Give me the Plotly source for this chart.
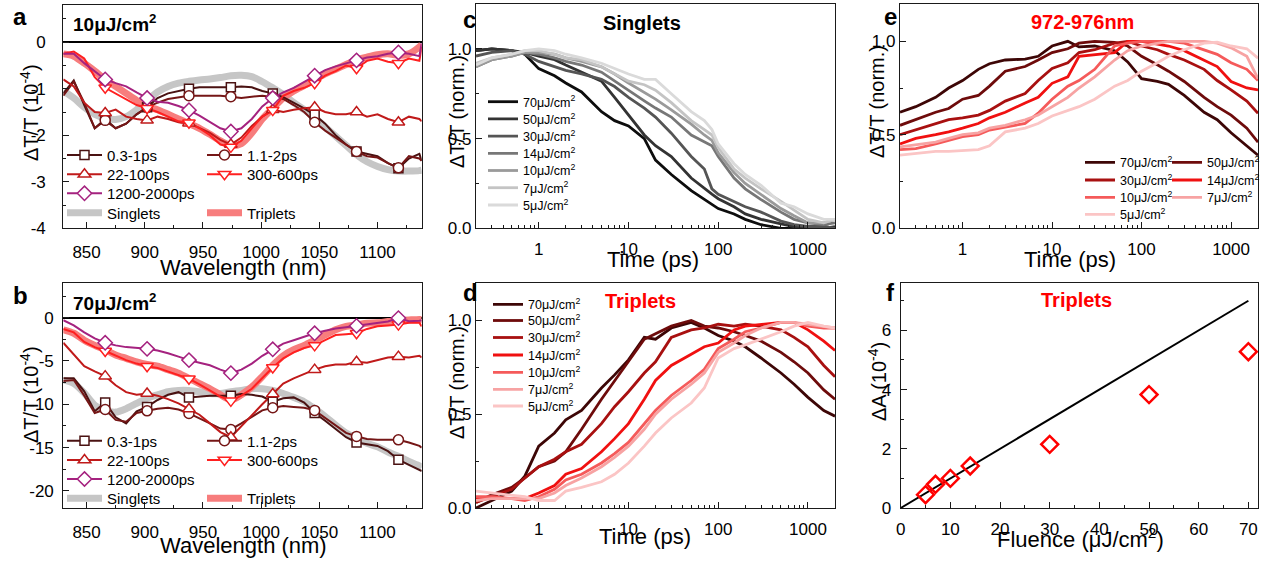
import numpy as np
import plotly.graph_objects as go

W, H = 1270, 561
FONT = "Liberation Sans, Arial, sans-serif"

# ---------------- data: panels a, b (spectra) ----------------
wavelength = [830, 839, 848, 857, 866, 875, 884, 893, 902, 911, 920, 929, 938, 947, 956, 965, 974,
              983, 992, 1001, 1010, 1019, 1028, 1037, 1046, 1055, 1064, 1073, 1082, 1091, 1100,
              1109, 1118, 1127, 1136, 1138]
marker_wavelength = [866, 902, 938, 974, 1010, 1046, 1082, 1118]
delay_names = ['0.3-1ps', '1.1-2ps', '22-100ps', '300-600ps', '1200-2000ps']

a_singlets = [-1.05, -1.2, -1.4, -1.55, -1.63, -1.66, -1.6, -1.45, -1.25, -1.07, -0.95, -0.88, -0.84,
              -0.81, -0.79, -0.76, -0.72, -0.71, -0.74, -0.85, -0.98, -1.12, -1.3, -1.45, -1.62, -1.82,
              -2.02, -2.22, -2.42, -2.57, -2.67, -2.74, -2.77, -2.77, -2.76, -2.75]
a_triplets = [-0.25, -0.3, -0.45, -0.62, -0.8, -0.95, -1.1, -1.25, -1.38, -1.45, -1.55, -1.65, -1.75,
              -1.85, -1.98, -2.12, -2.22, -2.18, -1.95, -1.65, -1.42, -1.2, -1.05, -0.93, -0.8, -0.68,
              -0.58, -0.48, -0.38, -0.32, -0.27, -0.25, -0.28, -0.25, -0.1, -0.05]
a_0p3_1ps = [-1.1, -0.82, -1.35, -1.85, -1.65, -1.85, -1.75, -1.55, -1.4, -1.2, -1.1, -1.05, -1.0,
             -0.97, -0.97, -0.96, -0.97, -0.95, -0.97, -1.05, -1.1, -1.18, -1.3, -1.42, -1.56, -1.75,
             -2.0, -2.2, -2.35, -2.4, -2.45, -2.6, -2.71, -2.5, -2.4, -2.55]
a_1p1_2ps = [-1.15, -0.85, -1.3, -1.85, -1.68, -1.85, -1.75, -1.55, -1.4, -1.3, -1.22, -1.18, -1.15,
             -1.15, -1.15, -1.15, -1.17, -1.2, -1.17, -1.15, -1.18, -1.22, -1.35, -1.5, -1.72, -1.9,
             -2.05, -2.2, -2.35, -2.45, -2.48, -2.6, -2.7, -2.45, -2.5, -2.55]
a_22_100ps = [-0.8, -0.95, -1.3, -1.5, -1.52, -1.45, -1.6, -1.65, -1.68, -1.6, -1.65, -1.72, -1.74,
              -1.85, -1.95, -2.1, -2.2, -2.05, -1.8, -1.6, -1.45, -1.5, -1.45, -1.42, -1.4, -1.5,
              -1.55, -1.55, -1.5, -1.6, -1.55, -1.65, -1.72, -1.6, -1.65, -1.7]
a_300_600ps = [-0.25, -0.2, -0.35, -0.75, -0.98, -1.1, -1.22, -1.35, -1.42, -1.5, -1.6, -1.7, -1.73,
               -1.85, -2.0, -2.2, -2.25, -2.12, -1.85, -1.6, -1.46, -1.15, -1.05, -0.98, -0.88, -0.72,
               -0.62, -0.5, -0.56, -0.4, -0.35, -0.42, -0.45, -0.35, -0.4, -0.1]
a_1200_2000ps = [-0.25, -0.25, -0.45, -0.62, -0.8, -0.88, -0.95, -1.08, -1.2, -1.28, -1.3, -1.37,
                 -1.46, -1.58, -1.72, -1.85, -1.92, -1.85, -1.65, -1.38, -1.2, -1.08, -0.98, -0.85,
                 -0.72, -0.6, -0.52, -0.45, -0.39, -0.33, -0.3, -0.25, -0.22, -0.25, -0.3, -0.02]

b_singlets = [-7.2, -7.6, -8.7, -10.1, -10.7, -10.9, -10.5, -9.9, -9.3, -8.9, -8.55, -8.4, -8.4,
              -8.55, -8.75, -8.75, -8.55, -8.4, -8.2, -8.2, -8.4, -8.75, -9.2, -9.7, -10.5, -11.4,
              -12.4, -13.3, -13.9, -14.5, -14.9, -15.5, -16.0, -16.6, -17.1, -17.3]
b_triplets = [-1.4, -1.8, -2.6, -3.2, -3.7, -4.3, -4.7, -5.1, -5.4, -5.6, -6.0, -6.4, -7.0, -7.6,
              -8.2, -8.9, -9.5, -8.9, -8.0, -6.8, -5.5, -4.4, -3.7, -3.2, -2.6, -2.0, -1.4, -1.0,
              -0.85, -0.65, -0.6, -0.45, -0.35, -0.27, -0.2, -0.2]
b_0p3_1ps = [-7.0, -7.0, -8.5, -10.8, -9.8, -11.5, -12.2, -10.8, -10.3, -9.5, -8.9, -8.6, -9.2, -9.1,
             -9.0, -9.0, -9.0, -8.8, -8.9, -9.1, -9.7, -9.3, -9.2, -9.8, -11.0, -11.9, -12.9, -13.8,
             -14.4, -14.6, -14.8, -15.4, -16.4, -17.0, -17.5, -17.7]
b_1p1_2ps = [-7.3, -7.2, -9.0, -11.0, -10.6, -11.8, -12.0, -11.0, -10.75, -10.5, -10.4, -10.6, -11.05,
             -11.6, -12.2, -12.8, -12.9, -12.2, -11.4, -10.7, -10.4, -10.2, -10.3, -10.4, -10.7,
             -11.6, -12.5, -13.3, -13.7, -14.0, -14.1, -14.1, -14.1, -14.4, -14.8, -15.0]
b_22_100ps = [-2.9, -4.3, -5.6, -6.2, -6.75, -7.8, -8.6, -8.9, -8.75, -9.0, -9.4, -9.9, -10.55,
              -11.2, -12.2, -13.2, -13.8, -12.5, -11.3, -10.0, -8.8, -7.6, -7.0, -6.5, -6.0, -5.6,
              -5.4, -5.4, -5.1, -5.2, -4.9, -4.6, -4.5, -4.6, -4.4, -4.6]
b_300_600ps = [-1.3, -1.7, -2.8, -3.4, -3.85, -4.4, -4.9, -5.3, -5.6, -5.8, -6.2, -6.6, -7.05, -7.7,
               -8.4, -9.1, -9.6, -9.0, -8.2, -7.0, -5.75, -4.7, -4.0, -3.5, -3.2, -2.6, -2.0, -1.9,
               -1.8, -1.3, -1.0, -0.9, -0.8, -0.6, -0.6, -1.0]
b_1200_2000ps = [-0.3, -0.9, -1.7, -2.4, -2.9, -3.2, -3.4, -3.5, -3.6, -3.8, -4.1, -4.5, -4.9, -5.2,
                 -5.5, -6.0, -6.4, -6.0, -5.3, -4.4, -3.65, -3.0, -2.6, -2.2, -1.8, -1.5, -1.25, -1.1,
                 -0.95, -0.75, -0.6, -0.45, -0.05, -0.4, -0.35, -0.3]

# ---------------- data: panel c (singlet kinetics) ----------------
fluence_labels = ['70', '50', '30', '14', '10', '7', '5']
time_c = [0.2, 0.3, 0.5, 0.7, 1, 1.5, 2, 3, 5, 7, 10, 15, 20, 30, 50, 70, 85, 100, 150, 200, 300,
          500, 700, 1000, 1500, 2000]
c_70 = [0.99, 1.0, 0.99, 0.97, 0.89, 0.85, 0.81, 0.76, 0.65, 0.60, 0.57, 0.50, 0.38, 0.30, 0.21,
        0.16, 0.13, 0.11, 0.08, 0.05, 0.02, 0.0, 0.0, 0.01, 0.01, 0.0]
c_50 = [0.99, 1.0, 0.99, 0.98, 0.96, 0.94, 0.91, 0.87, 0.82, 0.73, 0.63, 0.52, 0.46, 0.40, 0.28,
        0.22, 0.19, 0.165, 0.12, 0.08, 0.05, 0.025, 0.01, 0.01, 0.0, 0.01]
c_30 = [0.96, 0.98, 0.99, 0.97, 0.93, 0.90, 0.88, 0.86, 0.83, 0.79, 0.73, 0.67, 0.62, 0.53, 0.40,
        0.33, 0.22, 0.19, 0.15, 0.12, 0.09, 0.04, 0.02, 0.01, 0.01, 0.0]
c_14 = [0.90, 0.94, 0.96, 0.98, 0.97, 0.95, 0.93, 0.91, 0.87, 0.82, 0.77, 0.71, 0.67, 0.62, 0.52,
        0.48, 0.46, 0.40, 0.28, 0.22, 0.16, 0.09, 0.05, 0.03, 0.02, 0.03]
c_10 = [0.90, 0.94, 0.96, 0.98, 0.98, 0.97, 0.95, 0.93, 0.90, 0.86, 0.81, 0.76, 0.72, 0.66, 0.58,
        0.52, 0.49, 0.42, 0.31, 0.25, 0.19, 0.11, 0.07, 0.03, 0.03, 0.05]
c_7 = [0.92, 0.95, 0.97, 0.99, 0.99, 0.97, 0.95, 0.94, 0.90, 0.86, 0.82, 0.80, 0.77, 0.70, 0.60,
       0.55, 0.52, 0.45, 0.33, 0.28, 0.22, 0.15, 0.10, 0.05, 0.03, 0.05]
c_5 = [0.91, 0.95, 0.97, 0.99, 1.0, 0.99, 0.97, 0.95, 0.92, 0.89, 0.86, 0.83, 0.83, 0.75, 0.65,
       0.60, 0.55, 0.47, 0.36, 0.30, 0.24, 0.14, 0.12, 0.08, 0.05, 0.05]

# ---------------- data: panel d (triplet kinetics) ----------------
time_de = [0.2, 0.3, 0.5, 0.7, 1, 1.5, 2, 3, 5, 7, 10, 15, 20, 30, 50, 70, 100, 150, 200, 300,
           500, 700, 1000, 1500, 2000]
d_70 = [0.0, 0.04, 0.09, 0.17, 0.33, 0.40, 0.47, 0.52, 0.64, 0.71, 0.79, 0.91, 0.90, 0.96, 0.99,
        0.96, 0.92, 0.89, 0.86, 0.80, 0.72, 0.66, 0.59, 0.52, 0.49]
d_50 = [0.03, 0.07, 0.11, 0.16, 0.22, 0.25, 0.30, 0.42, 0.58, 0.68, 0.78, 0.90, 0.93, 0.97, 1.0,
        0.97, 0.96, 0.94, 0.92, 0.89, 0.83, 0.78, 0.72, 0.63, 0.58]
d_30 = [0.03, 0.06, 0.10, 0.16, 0.22, 0.26, 0.30, 0.34, 0.45, 0.54, 0.62, 0.72, 0.78, 0.91, 0.95,
        0.96, 0.98, 0.97, 0.98, 0.97, 0.95, 0.91, 0.86, 0.76, 0.70]
d_14 = [0.05, 0.05, 0.05, 0.05, 0.08, 0.12, 0.18, 0.21, 0.30, 0.37, 0.45, 0.58, 0.68, 0.76, 0.82,
        0.86, 0.88, 0.95, 0.97, 0.98, 0.99, 0.99, 0.95, 0.89, 0.84]
d_10 = [0.06, 0.06, 0.05, 0.04, 0.06, 0.10, 0.15, 0.18, 0.24, 0.29, 0.35, 0.45, 0.52, 0.60, 0.68,
        0.74, 0.85, 0.90, 0.94, 0.96, 0.99, 0.99, 0.97, 0.96, 0.96]
d_7 = [0.04, 0.05, 0.05, 0.05, 0.05, 0.08, 0.12, 0.16, 0.22, 0.27, 0.33, 0.42, 0.50, 0.58, 0.66,
       0.72, 0.83, 0.88, 0.92, 0.96, 0.99, 0.99, 0.98, 0.97, 0.96]
d_5 = [0.09, 0.08, 0.07, 0.06, 0.04, 0.04, 0.09, 0.11, 0.14, 0.18, 0.24, 0.33, 0.40, 0.48, 0.56,
       0.64, 0.80, 0.85, 0.87, 0.90, 0.94, 0.97, 0.99, 0.97, 0.96]

# ---------------- data: panel e (972-976 nm kinetics) ----------------
e_70 = [0.62, 0.65, 0.70, 0.75, 0.79, 0.85, 0.88, 0.90, 0.905, 0.92, 0.975, 1.0, 0.97, 0.975, 0.95,
        0.89, 0.80, 0.785, 0.77, 0.71, 0.62, 0.58, 0.51, 0.44, 0.39]
e_50 = [0.55, 0.58, 0.62, 0.64, 0.69, 0.71, 0.76, 0.84, 0.865, 0.90, 0.94, 0.96, 0.99, 1.0, 0.995,
        0.975, 0.92, 0.875, 0.84, 0.785, 0.70, 0.65, 0.605, 0.535, 0.46]
e_30 = [0.50, 0.525, 0.56, 0.58, 0.59, 0.605, 0.63, 0.68, 0.72, 0.79, 0.855, 0.885, 0.94, 0.955,
        0.99, 1.0, 0.975, 0.955, 0.93, 0.90, 0.85, 0.79, 0.74, 0.68, 0.615]
e_14 = [0.45, 0.48, 0.50, 0.515, 0.535, 0.56, 0.59, 0.62, 0.67, 0.70, 0.775, 0.81, 0.92, 0.93, 0.94,
        1.0, 1.0, 0.985, 0.975, 0.95, 0.90, 0.865, 0.785, 0.75, 0.74]
e_10 = [0.42, 0.425, 0.45, 0.47, 0.49, 0.50, 0.525, 0.54, 0.56, 0.615, 0.69, 0.76, 0.79, 0.85, 0.975,
        0.99, 1.0, 1.0, 1.0, 0.99, 0.955, 0.93, 0.885, 0.85, 0.79]
e_7 = [0.435, 0.445, 0.46, 0.48, 0.50, 0.51, 0.535, 0.55, 0.58, 0.605, 0.65, 0.70, 0.75, 0.81, 0.90,
       0.95, 0.975, 0.99, 1.0, 1.0, 1.0, 0.99, 0.965, 0.92, 0.80]
e_5 = [0.39, 0.40, 0.41, 0.41, 0.415, 0.42, 0.44, 0.515, 0.535, 0.56, 0.60, 0.63, 0.65, 0.69, 0.76,
       0.79, 0.84, 0.885, 0.92, 0.955, 0.99, 0.995, 0.975, 0.96, 0.91]

# ---------------- data: panel f ----------------
fluence = [5, 7, 10, 14, 30, 50, 70]
delta_A = [0.45, 0.80, 1.0, 1.42, 2.15, 3.83, 5.28]
fit_fluence = [0, 70]
fit_delta_A = [0.0, 7.0]

# ---------------- styles ----------------
delay_colors = ['#4a1212', '#751616', '#c01a1a', '#ff2020', '#a5227f']
delay_symbols = ['square', 'circle', 'triangle-up', 'triangle-down', 'diamond']
delay_sizes = [9, 10, 11, 11, 11]
singlet_color = '#c6c6c6'
triplet_color = '#f77d7d'
gray_colors = ['#0d0d0d', '#333333', '#555555', '#777777', '#9a9a9a', '#c4c4c4', '#dadada']
red_colors = ['#3d0606', '#6e0b0b', '#a81010', '#f01010', '#f55a5a', '#f7a3a3', '#fbc5c5']


def px_x(p):
    return p / W


def px_y(p):
    return 1 - p / H


fig = go.Figure()
legends = {}


def new_legend(line_start_px, center_y_px, font_size, itemwidth=30):
    n = len(legends) + 1
    key = 'legend' if n == 1 else f'legend{n}'
    h = max(font_size * 1.3, 16) + 3
    top = center_y_px - (5 + h / 2)
    legends[key] = dict(x=px_x(line_start_px - 5), y=px_y(top), xanchor='left', yanchor='top',
                        bgcolor='rgba(0,0,0,0)', borderwidth=0, itemwidth=itemwidth,
                        font=dict(family=FONT, size=font_size, color='black'),
                        tracegroupgap=0)
    return key


def spectra_panel(xa, ya, singlets, triplets, delays, rows, cols):
    # thick reference spectra
    for name, vals, col, pos in [('Singlets', singlets, singlet_color, (0, 3)),
                                 ('Triplets', triplets, triplet_color, (1, 3))]:
        key = new_legend(cols[pos[0]], rows[pos[1]], 15, itemwidth=35)
        fig.add_trace(go.Scatter(x=wavelength, y=vals, mode='lines', name=name,
                                 line=dict(color=col, width=7, shape='spline', smoothing=0.8),
                                 xaxis=xa, yaxis=ya, legend=key, hoverinfo='skip'))
    # delay-window lines
    for vals, col in zip(delays, delay_colors):
        fig.add_trace(go.Scatter(x=wavelength, y=vals, mode='lines', showlegend=False,
                                 line=dict(color=col, width=2), xaxis=xa, yaxis=ya,
                                 hoverinfo='skip'))
    # markers on every 4th sample, carrying the legend entry
    positions = [(0, 0), (1, 0), (0, 1), (1, 1), (0, 2)]
    for name, vals, col, sym, sz, pos in zip(delay_names, delays, delay_colors, delay_symbols,
                                             delay_sizes, positions):
        xs, ys = [], []
        for w in marker_wavelength:
            i = wavelength.index(w)
            xs += [w, None]
            ys += [vals[i], None]
        key = new_legend(cols[pos[0]], rows[pos[1]], 15, itemwidth=35)
        fig.add_trace(go.Scatter(x=xs, y=ys, mode='lines+markers', name=name, connectgaps=False,
                                 line=dict(color=col, width=2),
                                 marker=dict(symbol=sym, size=sz, color='white',
                                             line=dict(color=col, width=1.5)),
                                 xaxis=xa, yaxis=ya, legend=key, hoverinfo='skip'))


spectra_panel('x', 'y', a_singlets, a_triplets,
              [a_0p3_1ps, a_1p1_2ps, a_22_100ps, a_300_600ps, a_1200_2000ps],
              rows=[155, 174.3, 193.3, 212.7], cols=[67, 207])
spectra_panel('x2', 'y2', b_singlets, b_triplets,
              [b_0p3_1ps, b_1p1_2ps, b_22_100ps, b_300_600ps, b_1200_2000ps],
              rows=[440.7, 460, 479, 498.3], cols=[67, 207])

# panel c
c_series = [c_70, c_50, c_30, c_14, c_10, c_7, c_5]
c_rows = [101.7, 118.9, 136.1, 153.3, 170.5, 187.7, 205]
for lab, vals, col, ry in zip(fluence_labels, c_series, gray_colors, c_rows):
    key = new_legend(488, ry, 12.5)
    fig.add_trace(go.Scatter(x=time_c, y=vals, mode='lines', name=f'{lab}\u03bcJ/cm<sup>2</sup>',
                             line=dict(color=col, width=2.8), xaxis='x3', yaxis='y3',
                             legend=key, hoverinfo='skip'))

# panel d
d_series = [d_70, d_50, d_30, d_14, d_10, d_7, d_5]
d_rows = [304.3, 320.5, 337.5, 355, 372.3, 389.3, 406]
for lab, vals, col, ry in zip(fluence_labels, d_series, red_colors, d_rows):
    key = new_legend(493, ry, 12.5)
    fig.add_trace(go.Scatter(x=time_de, y=vals, mode='lines', name=f'{lab}\u03bcJ/cm<sup>2</sup>',
                             line=dict(color=col, width=2.8), xaxis='x4', yaxis='y4',
                             legend=key, hoverinfo='skip'))

# panel e
e_series = [e_70, e_50, e_30, e_14, e_10, e_7, e_5]
e_pos = [(1085, 162.3), (1172, 162.3), (1085, 180), (1172, 180), (1085, 197.3), (1172, 197.3),
         (1085, 214.3)]
for lab, vals, col, (lxp, ry) in zip(fluence_labels, e_series, red_colors, e_pos):
    key = new_legend(lxp, ry, 12.5)
    fig.add_trace(go.Scatter(x=time_de, y=vals, mode='lines', name=f'{lab}\u03bcJ/cm<sup>2</sup>',
                             line=dict(color=col, width=2.8), xaxis='x5', yaxis='y5',
                             legend=key, hoverinfo='skip'))

# panel f
fig.add_trace(go.Scatter(x=fit_fluence, y=fit_delta_A, mode='lines', showlegend=False,
                         line=dict(color='black', width=2), xaxis='x6', yaxis='y6',
                         hoverinfo='skip'))
fig.add_trace(go.Scatter(x=fluence, y=delta_A, mode='markers', showlegend=False,
                         marker=dict(symbol='diamond-open', size=13, color='#ff0000',
                                     line=dict(width=2.5, color='#ff0000')),
                         xaxis='x6', yaxis='y6', hoverinfo='skip'))

# ---------------- axes ----------------
AXC = '#1a1a1a'


def base_axis(**kw):
    d = dict(showline=True, linecolor=AXC, linewidth=1.2, mirror=True, ticks='inside',
             ticklen=6, tickwidth=1.2, tickcolor=AXC, showgrid=False, zeroline=False,
             automargin=False, tickfont=dict(family=FONT, size=17, color='black'))
    d.update(kw)
    return d


def minor(vals, ln=3):
    return dict(ticks='inside', ticklen=ln, tickwidth=1, tickcolor=AXC, tickvals=vals,
                showgrid=False)


log_minor = [k * 10.0 ** p for p in range(-1, 4) for k in range(2, 10)
             if 0.2 <= k * 10.0 ** p <= 2000]
log_range = [np.log10(0.2), np.log10(2000)]

panels = {
    '': ([63.3, 421.7], [5, 228.3]),
    '2': ([63.3, 421.7], [283, 508.3]),
    '3': ([476, 835], [4, 228.3]),
    '4': ([476, 835], [283, 508]),
    '5': ([900, 1258], [4, 228]),
    '6': ([900.7, 1258.3], [283, 508]),
}
layout_axes = {}
for k, (xd, yd) in panels.items():
    layout_axes['xaxis' + k] = dict(domain=[px_x(xd[0]), px_x(xd[1])], anchor='y' + k)
    layout_axes['yaxis' + k] = dict(domain=[px_y(yd[1]), px_y(yd[0])], anchor='x' + k)

wl_ticks = dict(range=[830, 1138], tickvals=[850, 900, 950, 1000, 1050, 1100],
                minor=minor([875, 925, 975, 1025, 1075, 1125]), ticklabelstandoff=8)
for k in ['', '2']:
    layout_axes['xaxis' + k].update(base_axis(**wl_ticks))
layout_axes['yaxis'].update(base_axis(
    range=[-4, 0.8], tickvals=[-4, -3, -2, -1, 0], ticktext=['-4', '-3', '-2', '-1', '0'],
    minor=minor([-3.5, -2.5, -1.5, -0.5, 0.5]), zeroline=True, zerolinecolor='black',
    zerolinewidth=1.6, ticklabelstandoff=13))
layout_axes['yaxis2'].update(base_axis(
    range=[-22, 4], tickvals=[-20, -15, -10, -5, 0], ticktext=['-20', '-15', '-10', '-5', '0'],
    minor=minor([-17.5, -12.5, -7.5, -2.5, 2.5]), zeroline=True, zerolinecolor='black',
    zerolinewidth=1.6, ticklabelstandoff=5))

for k, top in [('3', 1.25), ('4', 1.2), ('5', 1.2)]:
    layout_axes['xaxis' + k].update(base_axis(
        type='log', range=log_range, tickvals=[1, 10, 100, 1000],
        ticktext=['1', '10', '100', '1000'], minor=minor(log_minor), ticklabelstandoff=5))
    layout_axes['yaxis' + k].update(base_axis(
        range=[0, top], tickvals=[0, 0.5, 1.0], ticktext=['0.0', '0.5', '1.0'],
        minor=minor([0.25, 0.75]), ticklabelstandoff=0))

layout_axes['xaxis6'].update(base_axis(
    range=[0, 72], tickvals=[0, 10, 20, 30, 40, 50, 60, 70],
    minor=minor([5, 15, 25, 35, 45, 55, 65]), ticklabelstandoff=5))
layout_axes['yaxis6'].update(base_axis(
    range=[0, 7.6], tickvals=[0, 2, 4, 6], minor=minor([1, 3, 5, 7]), ticklabelstandoff=5))

# ---------------- text ----------------
annotations = []


def ann(text, x, y, size, color='black', bold=False, angle=0, xanchor='center'):
    annotations.append(dict(text=f'<b>{text}</b>' if bold else text, x=px_x(x), y=px_y(y),
                            xref='paper', yref='paper', showarrow=False, textangle=angle,
                            xanchor=xanchor, yanchor='middle',
                            font=dict(family=FONT, size=size, color=color)))


for lab, x, y in [('a', 20, 17), ('b', 20, 295), ('c', 469, 20), ('d', 470, 292),
                  ('e', 890, 17), ('f', 890, 292)]:
    ann(lab, x, y, 24, bold=True)

ann('10\u03bcJ/cm<sup>2</sup>', 71, 23, 19, bold=True, xanchor='left')
ann('70\u03bcJ/cm<sup>2</sup>', 71, 302, 19, bold=True, xanchor='left')
ann('Singlets', 642, 23, 20, bold=True)
ann('Triplets', 640, 301, 20, color='#ff0000', bold=True)
ann('972-976nm', 1082, 22, 20, color='#ff0000', bold=True)
ann('Triplets', 1076, 300, 20, color='#ff0000', bold=True)

ann('Wavelength (nm)', 243, 267, 22)
ann('Wavelength (nm)', 243, 545, 22)
ann('Time (ps)', 653, 260, 22)
ann('Time (ps)', 645, 536, 22)
ann('Time (ps)', 1070, 259, 22)
ann('Fluence (\u03bcJ/cm<sup>2</sup>)', 1080, 538, 22)

ann('\u0394T/T (10<sup>-4</sup>)', 29, 113, 20, angle=-90)
ann('\u0394T/T (10<sup>-4</sup>)', 29, 395, 20, angle=-90)
ann('\u0394T/T (norm.)', 457, 112, 20, angle=-90)
ann('\u0394T/T (norm.)', 457, 383, 20, angle=-90)
ann('\u0394T/T (norm.)', 877, 102, 20, angle=-90)
ann('\u0394A (10<sup>-4</sup>)', 877, 382, 20, angle=-90)

fig.update_layout(width=W, height=H, autosize=False,
                  margin=dict(l=0, r=0, t=0, b=0, pad=0, autoexpand=False),
                  paper_bgcolor='white', plot_bgcolor='white', showlegend=True,
                  hovermode=False,
                  font=dict(family=FONT, color='black'), annotations=annotations,
                  **layout_axes, **legends)

fig.write_html('out.html',
               config={'displayModeBar': False, 'responsive': False},
               post_script="document.body.style.margin='0px';"
                           "document.body.style.overflow='hidden';")
